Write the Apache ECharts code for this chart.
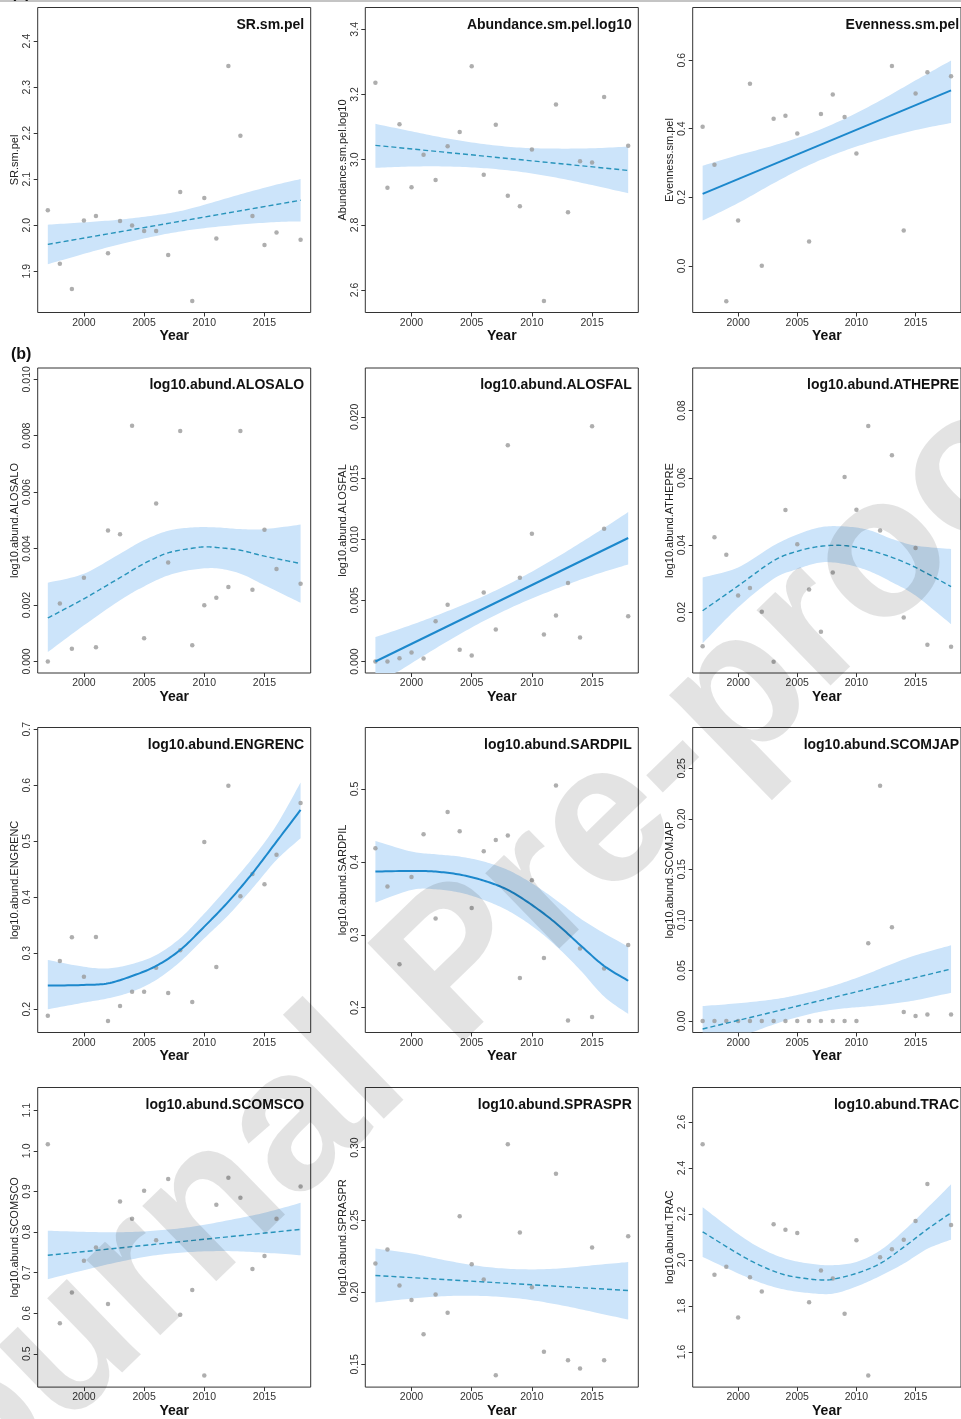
<!DOCTYPE html>
<html>
<head>
<meta charset="utf-8">
<script src="https://cdn.jsdelivr.net/npm/echarts@6/dist/echarts.min.js"></script>
<style>
html, body { margin: 0; padding: 0; background: #fff; }
#chart { width: 961px; height: 1419px; }
</style>
</head>
<body>
<div id="chart"></div>
<script>
// Survey years (no sample in 2017)
const years = [1997,1998,1999,2000,2001,2002,2003,2004,2005,2006,2007,2008,2009,2010,2011,2012,2013,2014,2015,2016,2018];
const xTicks = [2000, 2005, 2010, 2015];

// SR.sm.pel
const srPts = [2.032,1.916,1.861,2.010,2.020,1.939,2.009,1.999,1.987,1.987,1.935,2.072,1.835,2.059,1.971,2.346,2.194,2.020,1.957,1.984,1.968];
const srFitX = [1997, 2018];
const srFit = [1.958, 2.054];
const srBandX = [1997, 2000, 2003, 2006, 2008, 2010, 2013, 2016, 2018];
const srBandUp = [2.001, 2.006, 2.012, 2.0215, 2.0305, 2.044, 2.067, 2.088, 2.100];
const srBandLo = [1.915, 1.9375, 1.9585, 1.9765, 1.986, 1.9934, 2.0011, 2.0067, 2.008];
const srTicks = [1.9, 2.0, 2.1, 2.2, 2.3, 2.4];

// Abundance.sm.pel.log10
const abPts = [3.236,2.914,3.109,2.915,3.015,2.938,3.041,3.085,3.287,2.954,3.107,2.889,2.857,3.031,2.566,3.169,2.839,2.995,2.991,3.192,3.043];
const abFitX = [1997, 2018];
const abFit = [3.044, 2.967];
const abBandX = [1997, 2000, 2003, 2006, 2009, 2012, 2015, 2018];
const abBandUp = [3.110, 3.087, 3.065, 3.048, 3.037, 3.034, 3.035, 3.040];
const abBandLo = [2.975, 2.979, 2.979, 2.974, 2.963, 2.945, 2.922, 2.897];
const abTicks = [2.6, 2.8, 3.0, 3.2, 3.4];

// Evenness.sm.pel (no value for 2011 and 2012)
const evPts = [0.406,0.295,-0.103,0.132,0.531,0.000,0.429,0.438,0.386,0.071,0.443,0.500,0.434,0.328,null,null,0.583,0.103,0.503,0.565,0.553];
const evFitX = [1997, 2018];
const evFit = [0.210, 0.512];
const evBandX = [1997, 2000, 2003, 2006, 2009, 2012, 2015, 2018];
const evBandUp = [0.292, 0.323, 0.351, 0.385, 0.429, 0.482, 0.541, 0.599];
const evBandLo = [0.132, 0.183, 0.241, 0.294, 0.336, 0.369, 0.396, 0.417];
const evTicks = [0.0, 0.2, 0.4, 0.6];

// log10.abund.ALOSALO
const aloPts = [0.0000,0.00205,0.00045,0.00297,0.0005,0.00464,0.00451,0.00835,0.00082,0.0056,0.00351,0.00817,0.00057,0.00199,0.00226,0.00264,0.00817,0.00254,0.00467,0.00328,0.00275];
const aloFitX = [1997, 2000, 2003, 2005, 2007, 2009, 2010, 2011, 2013, 2015, 2018];
const aloFit = [0.00154, 0.00222, 0.00297, 0.00347, 0.00385, 0.00401, 0.00406, 0.00404, 0.00394, 0.00373, 0.00347];
const aloBandX = [1997, 2000, 2003, 2005, 2007, 2009, 2011, 2013, 2015, 2018];
const aloBandUp = [0.00279, 0.00311, 0.00382, 0.0043, 0.00463, 0.00475, 0.00475, 0.00469, 0.00469, 0.00485];
const aloBandLo = [0.00033, 0.00128, 0.00217, 0.00266, 0.00305, 0.00325, 0.0033, 0.00311, 0.0027, 0.00208];
const aloTicks = [0.000, 0.002, 0.004, 0.006, 0.008, 0.010];

// log10.abund.ALOSFAL
const alfPts = [0,0,0.00027,0.00074,0.00025,0.0033,0.00464,0.00096,0.00049,0.00565,0.00262,0.01768,0.00685,0.01045,0.00221,0.00377,0.00641,0.00196,0.01924,0.01086,0.00371];
const alfFitX = [1997, 2018];
const alfFit = [0.0000, 0.0101];
const alfBandX = [1997, 2000, 2003, 2006, 2009, 2012, 2015, 2018];
const alfBandUp = [0.0020, 0.0030, 0.00412, 0.00535, 0.00681, 0.00848, 0.0103, 0.01222];
const alfBandLo = [-0.0020, -0.00014, 0.00166, 0.00331, 0.00473, 0.00594, 0.00702, 0.00794];
const alfTicks = [0.000, 0.005, 0.010, 0.015, 0.020];

// log10.abund.ATHEPRE
const athPts = [0.00985,0.0423,0.0371,0.0249,0.0272,0.0201,0.00517,0.0504,0.0402,0.0267,0.0141,0.0318,0.0602,0.0505,0.0754,0.0443,0.0667,0.0184,0.0391,0.0103,0.00965];
const athFitX = [1997, 2000, 2003, 2005, 2007, 2009, 2011, 2013, 2015, 2018];
const athFit = [0.0204, 0.0278, 0.0353, 0.0381, 0.0396, 0.0398, 0.0385, 0.0363, 0.0333, 0.0276];
const athBandX = [1997, 2000, 2003, 2005, 2007, 2009, 2011, 2013, 2015, 2018];
const athBandUp = [0.0303, 0.0333, 0.0398, 0.0431, 0.0453, 0.0455, 0.0445, 0.0418, 0.0398, 0.0388];
const athBandLo = [0.0107, 0.0214, 0.0299, 0.0328, 0.0348, 0.0343, 0.0323, 0.0289, 0.0249, 0.0164];
const athTicks = [0.02, 0.04, 0.06, 0.08];

// log10.abund.ENGRENC
const engPts = [0.1887,0.2863,0.3286,0.2583,0.3292,0.1792,0.206,0.2315,0.2315,0.2744,0.2292,0.3054,0.2131,0.4988,0.2756,0.5994,0.4018,0.4417,0.4232,0.4762,0.5685];
const engFitX = [1997, 2000, 2002, 2004, 2006, 2008, 2010, 2012, 2014, 2016, 2018];
const engFit = [0.2423, 0.2435, 0.2464, 0.2595, 0.2774, 0.306, 0.3476, 0.3923, 0.4429, 0.4994, 0.556];
const engBandX = [1997, 2000, 2002, 2004, 2006, 2008, 2010, 2012, 2014, 2016, 2018];
const engBandUp = [0.288, 0.276, 0.273, 0.281, 0.297, 0.327, 0.371, 0.419, 0.470, 0.529, 0.605];
const engBandLo = [0.200, 0.212, 0.2196, 0.2315, 0.2524, 0.285, 0.3268, 0.368, 0.416, 0.4667, 0.5054];
const engTicks = [0.2, 0.3, 0.4, 0.5, 0.6, 0.7];

// log10.abund.SARDPIL
const sarPts = [0.4187,0.3662,0.2596,0.3794,0.438,0.3223,0.4686,0.4421,0.3369,0.4146,0.4302,0.4361,0.2409,0.3749,0.2683,0.5047,0.1824,0.2811,0.1874,0.2537,0.2861];
const sarFitX = [1997, 2000, 2002, 2004, 2006, 2008, 2010, 2012, 2014, 2016, 2018];
const sarFit = [0.3867, 0.3877, 0.3867, 0.3826, 0.3744, 0.3616, 0.341, 0.3159, 0.2861, 0.2573, 0.237];
const sarBandX = [1997, 2000, 2002, 2004, 2006, 2008, 2010, 2012, 2014, 2016, 2018];
const sarBandUp = [0.4288, 0.4142, 0.4105, 0.4073, 0.4005, 0.389, 0.3707, 0.3479, 0.3227, 0.3021, 0.2839];
const sarBandLo = [0.3442, 0.3616, 0.3625, 0.3579, 0.3479, 0.3332, 0.3122, 0.2848, 0.2519, 0.2153, 0.1915];
const sarTicks = [0.2, 0.3, 0.4, 0.5];

// log10.abund.SCOMJAP
const sjpPts = [0,0,0,0,0,0,0,0,0,0,0,0,0,0,0.0768,0.2328,0.0927,0.0089,0.0049,0.0063,0.0063];
const sjpFitX = [1997, 2018];
const sjpFit = [-0.0079, 0.0514];
const sjpBandX = [1997, 2000, 2003, 2005, 2007, 2009, 2011, 2013, 2015, 2018];
const sjpBandUp = [0.0148, 0.0175, 0.0214, 0.0257, 0.0313, 0.0385, 0.047, 0.0565, 0.065, 0.0749];
const sjpBandLo = [-0.0306, -0.0165, -0.0035, 0.0037, 0.0092, 0.0125, 0.0145, 0.017, 0.0205, 0.0279];
const sjpTicks = [0.00, 0.05, 0.10, 0.15, 0.20, 0.25];

// log10.abund.SCOMSCO
const scoPts = [1.0161,0.575,0.6508,0.729,0.762,0.6226,0.875,0.833,0.9016,0.7798,0.9306,0.596,0.6573,0.4468,0.8669,0.9339,0.8847,0.7089,0.7411,0.833,0.9121];
const scoFitX = [1997, 2018];
const scoFit = [0.7427, 0.8065];
const scoBandX = [1997, 2000, 2003, 2006, 2009, 2012, 2015, 2018];
const scoBandUp = [0.8032, 0.8005, 0.7995, 0.8035, 0.813, 0.829, 0.8475, 0.8718];
const scoBandLo = [0.6839, 0.706, 0.727, 0.743, 0.751, 0.753, 0.749, 0.7427];
const scoTicks = [0.5, 0.6, 0.7, 0.8, 0.9, 1.0, 1.1];

// log10.abund.SPRASPR
const sprPts = [0.2197,0.2294,0.2045,0.1946,0.1708,0.1984,0.1857,0.2525,0.2192,0.2088,0.1425,0.3023,0.2412,0.2034,0.1588,0.2819,0.1529,0.1471,0.2308,0.1529,0.2387];
const sprFitX = [1997, 2018];
const sprFit = [0.2115, 0.2011];
const sprBandX = [1997, 2000, 2003, 2006, 2009, 2012, 2015, 2018];
const sprBandUp = [0.2301, 0.2267, 0.2217, 0.2176, 0.2158, 0.2162, 0.2185, 0.2208];
const sprBandLo = [0.1928, 0.1955, 0.1973, 0.1973, 0.1955, 0.1916, 0.1864, 0.181];
const sprTicks = [0.15, 0.20, 0.25, 0.30];

// log10.abund.TRAC
const trcPts = [2.5028,1.9359,1.9701,1.7493,1.9245,1.8632,2.1553,2.131,2.1168,1.8162,1.9544,1.9188,1.7664,2.0855,1.4972,2.0114,2.047,2.0883,2.1695,2.3305,2.1524];
const trcFitX = [1997, 2000, 2002, 2004, 2006, 2007, 2008, 2010, 2012, 2014, 2016, 2018];
const trcFit = [2.1225, 2.0271, 1.9729, 1.9345, 1.9174, 1.9131, 1.916, 1.9416, 1.9843, 2.0556, 2.1339, 2.2051];
const trcBandX = [1997, 2000, 2002, 2004, 2006, 2008, 2010, 2012, 2014, 2016, 2018];
const trcBandUp = [2.2293, 2.1125, 2.0484, 2.0057, 1.9843, 1.9772, 1.9915, 2.0413, 2.1268, 2.2265, 2.329];
const trcBandLo = [2.0128, 1.9416, 1.8989, 1.8704, 1.8561, 1.8533, 1.8846, 1.9302, 1.9843, 2.0484, 2.0883];
const trcTicks = [1.6, 1.8, 2.0, 2.2, 2.4, 2.6];

const panels = [
  { name: 'SR.sm.pel', pts: srPts, fitX: srFitX, fit: srFit, bandX: srBandX, up: srBandUp, lo: srBandLo, ticks: srTicks, dec: 1, yMin: 1.81, yMax: 2.473, dashed: true },
  { name: 'Abundance.sm.pel.log10', pts: abPts, fitX: abFitX, fit: abFit, bandX: abBandX, up: abBandUp, lo: abBandLo, ticks: abTicks, dec: 1, yMin: 2.531, yMax: 3.467, dashed: true },
  { name: 'Evenness.sm.pel', pts: evPts, fitX: evFitX, fit: evFit, bandX: evBandX, up: evBandUp, lo: evBandLo, ticks: evTicks, dec: 1, yMin: -0.136, yMax: 0.7535, dashed: false },
  { name: 'log10.abund.ALOSALO', pts: aloPts, fitX: aloFitX, fit: aloFit, bandX: aloBandX, up: aloBandUp, lo: aloBandLo, ticks: aloTicks, dec: 3, yMin: -0.00041, yMax: 0.0104, dashed: true },
  { name: 'log10.abund.ALOSFAL', pts: alfPts, fitX: alfFitX, fit: alfFit, bandX: alfBandX, up: alfBandUp, lo: alfBandLo, ticks: alfTicks, dec: 3, yMin: -0.00094, yMax: 0.024, dashed: false },
  { name: 'log10.abund.ATHEPRE', pts: athPts, fitX: athFitX, fit: athFit, bandX: athBandX, up: athBandUp, lo: athBandLo, ticks: athTicks, dec: 2, yMin: 0.00185, yMax: 0.0927, dashed: true },
  { name: 'log10.abund.ENGRENC', pts: engPts, fitX: engFitX, fit: engFit, bandX: engBandX, up: engBandUp, lo: engBandLo, ticks: engTicks, dec: 1, yMin: 0.1586, yMax: 0.7032, dashed: false },
  { name: 'log10.abund.SARDPIL', pts: sarPts, fitX: sarFitX, fit: sarFit, bandX: sarBandX, up: sarBandUp, lo: sarBandLo, ticks: sarTicks, dec: 1, yMin: 0.166, yMax: 0.5844, dashed: false },
  { name: 'log10.abund.SCOMJAP', pts: sjpPts, fitX: sjpFitX, fit: sjpFit, bandX: sjpBandX, up: sjpBandUp, lo: sjpBandLo, ticks: sjpTicks, dec: 2, yMin: -0.0114, yMax: 0.2904, dashed: true },
  { name: 'log10.abund.SCOMSCO', pts: scoPts, fitX: scoFitX, fit: scoFit, bandX: scoBandX, up: scoBandUp, lo: scoBandLo, ticks: scoTicks, dec: 1, yMin: 0.418, yMax: 1.156, dashed: true },
  { name: 'log10.abund.SPRASPR', pts: sprPts, fitX: sprFitX, fit: sprFit, bandX: sprBandX, up: sprBandUp, lo: sprBandLo, ticks: sprTicks, dec: 2, yMin: 0.1343, yMax: 0.3415, dashed: true },
  { name: 'log10.abund.TRAC', pts: trcPts, fitX: trcFitX, fit: trcFit, bandX: trcBandX, up: trcBandUp, lo: trcBandLo, ticks: trcTicks, dec: 1, yMin: 1.447, yMax: 2.750, dashed: true }
];

const FONT = '"Liberation Sans", Arial, Helvetica, sans-serif';
const colLeft = [37.7, 365.3, 692.7];
const rowTop = [7.5, 368, 727.5, 1087.5];
const plotW = 273, plotH = 305;
const bandColor = '#cce4fa';
const solidColor = '#1c88cc';
const dashColor = '#2894bb';
const pointColor = '#9a9a9a';

// Catmull-Rom curve through pixel points, returned as a dense polyline
function spline(px, steps) {
  if (px.length < 3) return px.slice();
  const out = [];
  const n = px.length;
  for (let i = 0; i < n - 1; i++) {
    const p0 = px[Math.max(i - 1, 0)], p1 = px[i], p2 = px[i + 1], p3 = px[Math.min(i + 2, n - 1)];
    for (let s = 0; s < steps; s++) {
      const t = s / steps, t2 = t * t, t3 = t2 * t;
      const f = (a, b, c, d) => 0.5 * (2 * b + (-a + c) * t + (2 * a - 5 * b + 4 * c - d) * t2 + (-a + 3 * b - 3 * c + d) * t3);
      out.push([f(p0[0], p1[0], p2[0], p3[0]), f(p0[1], p1[1], p2[1], p3[1])]);
    }
  }
  out.push(px[n - 1]);
  return out;
}

const grids = [], xAxes = [], yAxes = [], series = [], graphics = [];

panels.forEach((p, i) => {
  const r = Math.floor(i / 3), c = i % 3;
  const left = colLeft[c], top = rowTop[r];
  grids.push({ left: left, top: top, width: plotW, height: plotH, show: true,
    borderColor: '#333', borderWidth: 1, backgroundColor: 'transparent' });
  xAxes.push({
    gridIndex: i, type: 'value', min: 1996.16, max: 2018.84,
    axisLine: { show: false, onZero: false },
    splitLine: { show: false },
    axisTick: { show: true, customValues: xTicks, length: 4, lineStyle: { color: '#333' } },
    axisLabel: { show: true, customValues: xTicks, fontSize: 10.5, color: '#333', margin: 5, fontFamily: FONT,
      formatter: v => String(v) },
    name: 'Year', nameLocation: 'middle', nameGap: 12,
    nameTextStyle: { fontSize: 14, fontWeight: 'bold', color: '#111', fontFamily: FONT }
  });
  yAxes.push({
    gridIndex: i, type: 'value', min: p.yMin, max: p.yMax,
    axisLine: { show: false, onZero: false },
    splitLine: { show: false },
    axisTick: { show: true, customValues: p.ticks, length: 4, lineStyle: { color: '#333' } },
    axisLabel: { show: true, customValues: p.ticks, rotate: 90, fontSize: 10.5, color: '#333', margin: 5,
      fontFamily: FONT, formatter: v => Number(v).toFixed(p.dec) },
    name: p.name, nameLocation: 'middle', nameGap: 16,
    nameTextStyle: { fontSize: 11, color: '#222', fontFamily: FONT }
  });

  // confidence band
  series.push({
    type: 'custom', xAxisIndex: i, yAxisIndex: i, silent: true, clip: true, z: 1,
    data: [[p.bandX[0], p.up[0]]],
    renderItem: (params, api) => {
      const cs = params.coordSys;
      const clampY = pt => [pt[0], Math.min(Math.max(pt[1], cs.y), cs.y + cs.height)];
      const upPx = spline(p.bandX.map((x, k) => api.coord([x, p.up[k]])), 12).map(clampY);
      const loPx = spline(p.bandX.map((x, k) => api.coord([x, p.lo[k]])), 12).map(clampY);
      return { type: 'polygon', shape: { points: upPx.concat(loPx.reverse()) }, style: { fill: bandColor } };
    }
  });
  // observations
  series.push({
    type: 'scatter', xAxisIndex: i, yAxisIndex: i,
    data: years.map((y, k) => [y, p.pts[k]]).filter(d => d[1] !== null),
    symbol: 'circle', symbolSize: 4.5, itemStyle: { color: pointColor }, silent: true, z: 3
  });
  // fitted trend
  series.push({
    type: 'custom', xAxisIndex: i, yAxisIndex: i, silent: true, clip: true, z: 4,
    data: [[p.fitX[0], p.fit[0]]],
    renderItem: (params, api) => {
      const pts = spline(p.fitX.map((x, k) => api.coord([x, p.fit[k]])), 12);
      return {
        type: 'polyline', shape: { points: pts },
        style: p.dashed
          ? { stroke: dashColor, lineWidth: 1.4, lineDash: [5, 3], fill: null }
          : { stroke: solidColor, lineWidth: 2, fill: null }
      };
    }
  });
  // panel title
  graphics.push({
    type: 'text', x: left + plotW - 6.5, y: top + 17.5, z: 10,
    style: { text: p.name, fill: '#111', font: 'bold 14px ' + FONT, align: 'right', verticalAlign: 'middle' }
  });
});

// section labels and top rule
graphics.push({ type: 'rect', shape: { x: 0, y: 0, width: 961, height: 2 }, style: { fill: '#c4c4c4' }, z: 10 });
graphics.push({ type: 'text', x: 11, y: -6, z: 10, style: { text: '(a)', fill: '#111', font: 'bold 16px ' + FONT, align: 'left', verticalAlign: 'middle' } });
graphics.push({ type: 'text', x: 11, y: 355, z: 10, style: { text: '(b)', fill: '#111', font: 'bold 16px ' + FONT, align: 'left', verticalAlign: 'middle' } });

// watermark
graphics.push({
  type: 'text', x: 459, y: 969, rotation: 0.77, z: 100, silent: true,
  style: { text: 'Journal Pre-proof', fill: 'rgba(0,0,0,0.11)', font: 'bold 200px ' + FONT, align: 'center', verticalAlign: 'middle' }
});

const chart = echarts.init(document.getElementById('chart'), null, { renderer: 'canvas' });
chart.setOption({
  animation: false,
  backgroundColor: '#fff',
  textStyle: { fontFamily: FONT },
  grid: grids,
  xAxis: xAxes,
  yAxis: yAxes,
  series: series,
  graphic: graphics
});
</script>
</body>
</html>
